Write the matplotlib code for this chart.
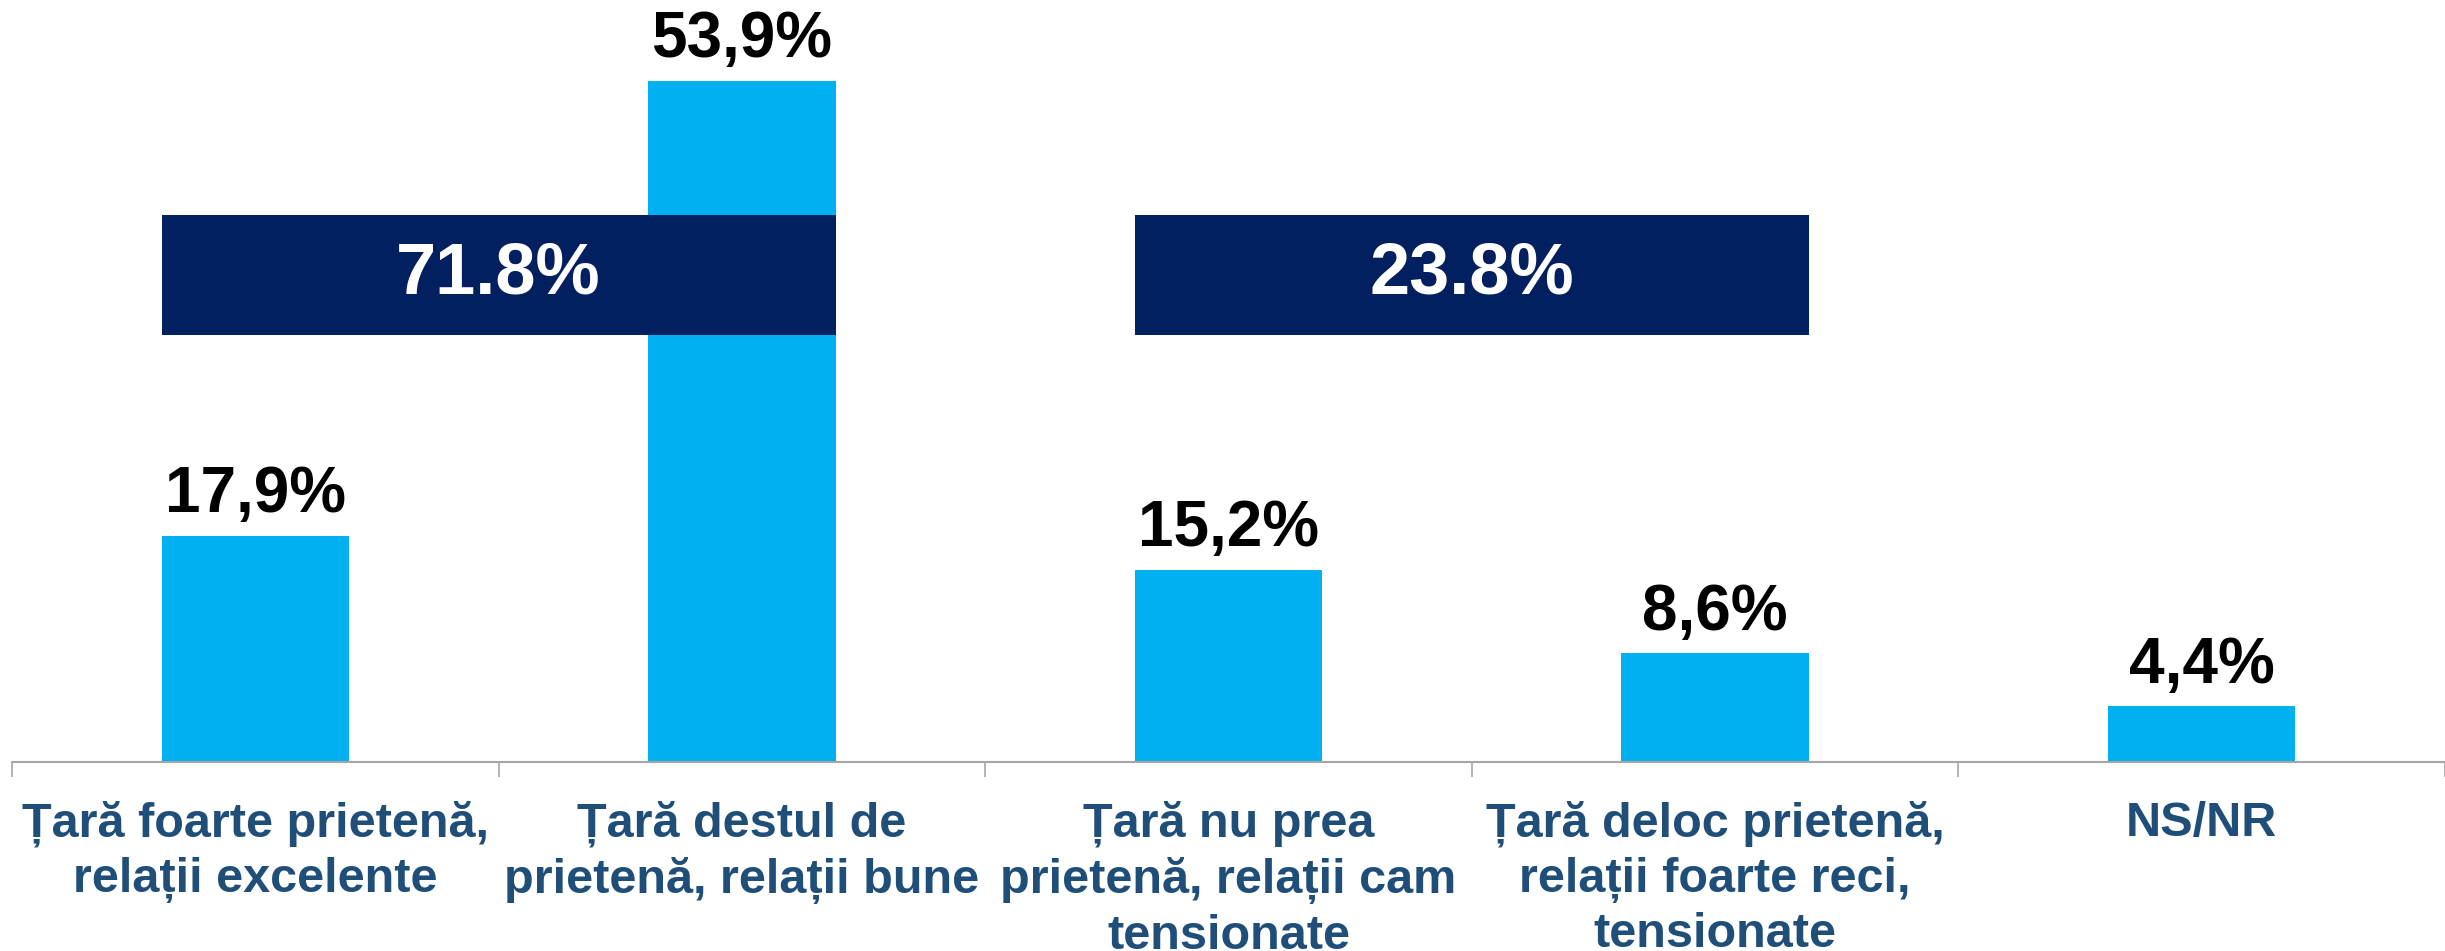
"""Bar chart: perception of a country's relations, with grouped totals"""
import matplotlib.pyplot as plt

CATEGORIES = [
    "Țară foarte prietenă,\nrelații excelente",
    "Țară destul de\nprietenă, relații bune",
    "Țară nu prea\nprietenă, relații cam\ntensionate",
    "Țară deloc prietenă,\nrelații foarte reci,\ntensionate",
    "NS/NR",
]
VALUES = [17.9, 53.9, 15.2, 8.6, 4.4]
GROUPS = [(0, 1), (2, 3)]
GROUP_TOTALS = ["71.8%", "23.8%"]

BAR_COLOR = "#00B0F0"
BANNER_COLOR = "#02205F"
LABEL_COLOR = "#1F4E79"


def main():
    """Go Main Go"""
    plt.rcParams['font.family'] = ['Liberation Sans', 'DejaVu Sans']
    fig = plt.figure(figsize=(24.45, 9.51), dpi=100)
    ax = fig.add_axes([12 / 2445, 189 / 951, 1 - 12 / 2445, 762 / 951])

    width = 0.385
    x = list(range(len(VALUES)))
    bars = ax.bar(x, VALUES, width=width, color=BAR_COLOR, zorder=2)
    for rect, val in zip(bars, VALUES):
        ax.annotate(f"{val:.1f}%".replace(".", ","),
                    (rect.get_x() + rect.get_width() / 2, rect.get_height()),
                    xytext=(0, 17), textcoords='offset points',
                    ha='center', va='baseline', fontsize=46,
                    fontweight='bold', color='black')

    # banners spanning pairs of bars
    b_low, b_high = 33.8, 43.3
    for (i, j), txt in zip(GROUPS, GROUP_TOTALS):
        left = i - width / 2
        right = j + width / 2
        ax.bar((left + right) / 2, b_high - b_low, bottom=b_low,
               width=right - left, color=BANNER_COLOR, zorder=3)
        ax.text((left + right) / 2, (b_low + b_high) / 2, txt,
                ha='center', va='center', fontsize=52, fontweight='bold',
                color='white', zorder=4)

    ax.set_xlim(-0.5, len(VALUES) - 0.5)
    ax.set_ylim(0, 60.3)
    for side in ('left', 'right', 'top'):
        ax.spines[side].set_visible(False)
    ax.spines['bottom'].set_color('#A6A6A6')
    ax.spines['bottom'].set_linewidth(1.5)
    ax.set_yticks([])
    ax.set_xticks(x)
    ax.set_xticklabels(CATEGORIES, fontsize=35, fontweight='bold',
                       color=LABEL_COLOR, linespacing=1.27)
    ax.tick_params(axis='x', which='major', length=0, pad=28)
    ax.set_xticks([k - 0.5 for k in range(len(VALUES) + 1)], minor=True)
    ax.tick_params(axis='x', which='minor', length=11, width=1.2,
                   color='#A6A6A6')
    fig.savefig('out.png')


if __name__ == '__main__':
    main()
